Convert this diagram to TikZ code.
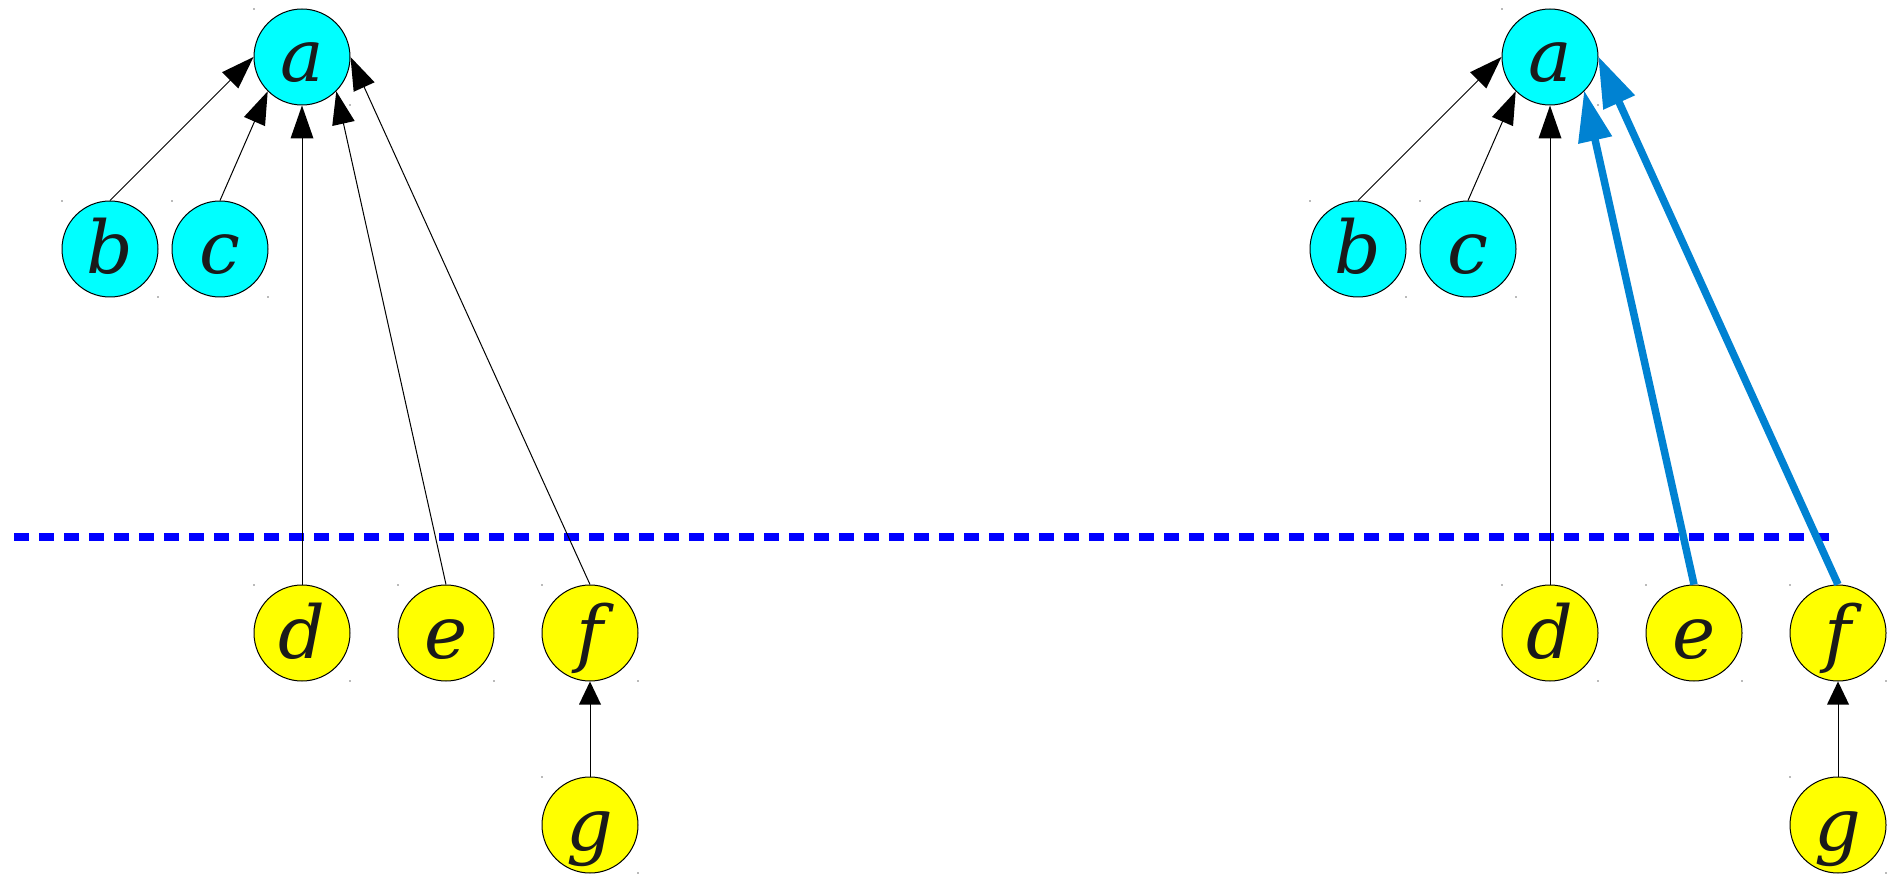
\documentclass[tikz,border=0pt]{standalone}
\usepackage{fontspec}
\setmainfont{DejaVu Serif}
\usetikzlibrary{calc}
\definecolor{nodecyan}{RGB}{0,255,255}
\definecolor{nodeyellow}{RGB}{255,255,0}
\definecolor{edgeblue}{RGB}{0,130,210}
\definecolor{dashblue}{RGB}{0,0,255}
\definecolor{txt}{RGB}{26,26,26}
% arrowhead: from, to, length, half width, colour
\newcommand\mytip[5]{\fill[#5] (#2) -- ($(#2)!#3!(#1)!#4!90:(#1)$) -- ($(#2)!#3!(#1)!#4!-90:(#1)$) -- cycle;}
\begin{document}
\begin{tikzpicture}[x=1pt,y=-1pt,
  vtx/.style={circle,draw=black,line width=1pt,minimum size=96pt,inner sep=0pt,
    font=\fontsize{73}{88}\selectfont\itshape,text=txt,text height=60pt,text depth=10pt},
  cy/.style={vtx,fill=nodecyan},
  ye/.style={vtx,fill=nodeyellow},
  blk/.style={line width=1pt,shorten >=12pt},
  blu/.style={draw=edgeblue,line width=7.5pt,shorten >=30pt},
  sep/.style={draw=dashblue,line width=7.5pt,dash pattern=on 15pt off 10pt},
  mark dot/.style={fill=black!55}]
\useasboundingbox (0,0) rectangle (1897,874);
% left graph
\node[cy] (a1) at (302,57) {a};
\node[cy] (b1) at (110,249) {b};
\node[cy] (c1) at (220,249) {c};
\node[ye] (d1) at (302,633) {d};
\node[ye] (e1) at (446,633) {e};
\node[ye] (f1) at (590,633) {f};
\node[ye] (g1) at (590,825) {g};
% right graph
\node[cy] (a2) at (1550,57) {a};
\node[cy] (b2) at (1358,249) {b};
\node[cy] (c2) at (1468,249) {c};
\node[ye] (d2) at (1550,633) {d};
\node[ye] (e2) at (1694,633) {e};
\node[ye] (f2) at (1838,633) {f};
\node[ye] (g2) at (1838,825) {g};
% separator
\coordinate (sl) at (14,537);
\coordinate (sr) at (1838,537);
\draw[sep] (sl) -- (sr);
% left edges
\draw[blk] (b1.north) -- (a1.west);          \mytip{b1.north}{a1.west}{33pt}{11.5pt}{black}
\draw[blk] (c1.north) -- (a1.south west);    \mytip{c1.north}{a1.south west}{33pt}{11.5pt}{black}
\draw[blk] (d1.north) -- (a1.south);         \mytip{d1.north}{a1.south}{33pt}{11.5pt}{black}
\draw[blk] (e1.north) -- (a1.south east);    \mytip{e1.north}{a1.south east}{33pt}{11.5pt}{black}
\draw[blk] (f1.north) -- (a1.east);          \mytip{f1.north}{a1.east}{33pt}{11.5pt}{black}
\draw[blk] (g1.north) -- (f1.south);         \mytip{g1.north}{f1.south}{23pt}{11pt}{black}
% right edges
\draw[blk] (b2.north) -- (a2.west);          \mytip{b2.north}{a2.west}{33pt}{11.5pt}{black}
\draw[blk] (c2.north) -- (a2.south west);    \mytip{c2.north}{a2.south west}{33pt}{11.5pt}{black}
\draw[blk] (d2.north) -- (a2.south);         \mytip{d2.north}{a2.south}{33pt}{11.5pt}{black}
\draw[blu] (e2.north) -- (a2.south east);    \mytip{e2.north}{a2.south east}{50pt}{17.5pt}{edgeblue}
\draw[blu] (f2.north) -- (a2.east);          \mytip{f2.north}{a2.east}{50pt}{17.5pt}{edgeblue}
\draw[blk] (g2.north) -- (f2.south);         \mytip{g2.north}{f2.south}{23pt}{11pt}{black}
% corner marks
\foreach \n in {a1,b1,c1,d1,e1,f1,g1,a2,b2,c2,d2,e2,f2,g2}{
  \fill[mark dot] ([shift={(-48,-48)}]\n.center) circle (0.8pt);
  \fill[mark dot] ([shift={(48,48)}]\n.center) circle (0.8pt);
}
\end{tikzpicture}
\end{document}
